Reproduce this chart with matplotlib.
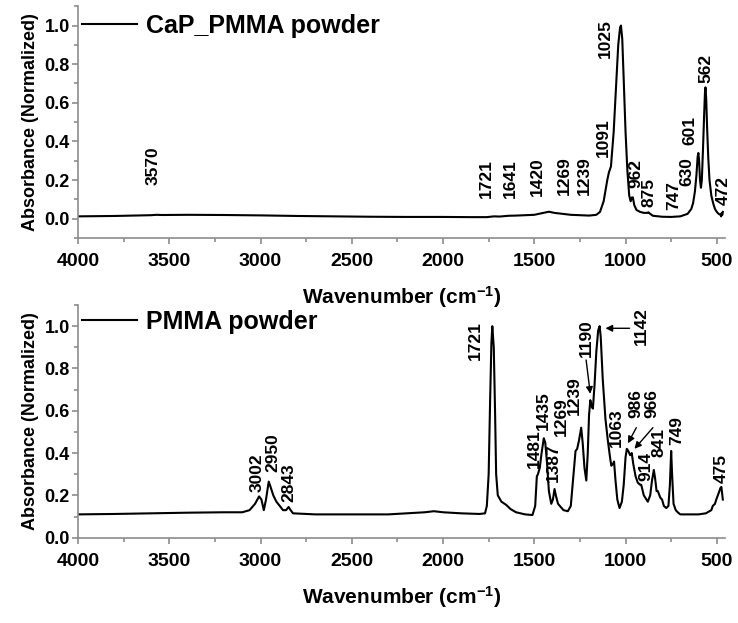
# FTIR spectra: CaP_PMMA powder vs PMMA powder

import matplotlib
matplotlib.use('Agg')
import matplotlib.pyplot as plt
from matplotlib.ticker import MultipleLocator

# ---- data ----
cap_wn = [4000, 3800, 3600, 3570, 3540, 3400, 3200, 3000, 2800, 2600, 2400, 2200,
          2000, 1850, 1760, 1721, 1690, 1641, 1600, 1500, 1450, 1420, 1390, 1300,
          1200, 1160, 1140, 1120, 1100, 1091, 1080, 1065, 1050, 1040, 1030, 1025,
          1018, 1010, 1000, 990, 980, 972, 965, 960, 952, 940, 920, 900, 880, 875,
          865, 850, 800, 750, 700, 660, 640, 630, 620, 612, 605, 601, 597, 592,
          587, 582, 576, 570, 565, 562, 558, 553, 547, 540, 530, 520, 510, 500,
          490, 480, 476, 473, 470, 467]
cap_abs = [0.012, 0.014, 0.018, 0.02, 0.019, 0.02, 0.019, 0.017, 0.014, 0.012, 0.01, 0.009,
           0.009, 0.008, 0.008, 0.012, 0.011, 0.015, 0.016, 0.02, 0.03, 0.036, 0.03, 0.02,
           0.016, 0.02, 0.035, 0.09, 0.2, 0.24, 0.27, 0.45, 0.72, 0.9, 0.99, 1.0,
           0.93, 0.72, 0.45, 0.25, 0.12, 0.09, 0.11, 0.11, 0.07, 0.045, 0.035, 0.03, 0.03, 0.033,
           0.025, 0.015, 0.01, 0.009, 0.012, 0.025, 0.05, 0.08, 0.14, 0.22, 0.32, 0.34, 0.3, 0.2,
           0.16, 0.2, 0.35, 0.52, 0.65, 0.68, 0.62, 0.47, 0.32, 0.2, 0.12, 0.08, 0.05, 0.035,
           0.025, 0.02, 0.012, 0.03, 0.02, 0.035]

pmma_wn = [4000, 3800, 3600, 3400, 3200, 3100, 3060, 3030, 3008, 2995, 2982, 2970,
           2955, 2945, 2930, 2913, 2890, 2877, 2860, 2846, 2835, 2822, 2700, 2500,
           2300, 2200, 2100, 2050, 2000, 1900, 1800, 1770, 1760, 1750, 1742, 1735,
           1730, 1722, 1715, 1709, 1700, 1680, 1654, 1630, 1600, 1550, 1510, 1495,
           1486, 1480, 1470, 1460, 1448, 1440, 1430, 1420, 1407, 1398, 1389, 1382,
           1370, 1340, 1316, 1300, 1285, 1274, 1265, 1255, 1243, 1235, 1225, 1215,
           1207, 1200, 1193, 1185, 1179, 1170, 1160, 1150, 1142, 1136, 1125, 1110,
           1097, 1085, 1078, 1068, 1063, 1055, 1045, 1033, 1020, 1010, 1000, 993,
           985, 975, 966, 958, 945, 933, 920, 914, 900, 878, 865, 855, 845, 838,
           830, 823, 810, 800, 790, 777, 765, 757, 750, 745, 737, 725, 714, 700,
           650, 600, 560, 530, 522, 510, 503, 490, 480, 475, 470, 467]
pmma_abs = [0.11, 0.112, 0.115, 0.118, 0.12, 0.12, 0.13, 0.16, 0.195, 0.18, 0.13, 0.18,
            0.265, 0.24, 0.2, 0.17, 0.145, 0.13, 0.13, 0.145, 0.13, 0.115, 0.11, 0.11,
            0.11, 0.115, 0.12, 0.125, 0.12, 0.115, 0.112, 0.115, 0.15, 0.3, 0.65, 0.92,
            1.0, 0.9, 0.6, 0.3, 0.2, 0.17, 0.155, 0.135, 0.12, 0.11, 0.107, 0.15,
            0.29, 0.3, 0.33, 0.4, 0.47, 0.45, 0.35, 0.22, 0.16, 0.18, 0.23, 0.2,
            0.16, 0.13, 0.125, 0.15, 0.3, 0.41, 0.42, 0.46, 0.52, 0.45, 0.33, 0.27,
            0.4, 0.58, 0.65, 0.62, 0.61, 0.72, 0.88, 0.98, 1.0, 0.95, 0.75, 0.56,
            0.46, 0.38, 0.34, 0.35, 0.36, 0.27, 0.18, 0.14, 0.17, 0.25, 0.38, 0.42,
            0.41, 0.39, 0.4, 0.35, 0.29, 0.26, 0.25, 0.25, 0.2, 0.17, 0.2, 0.27, 0.32, 0.28,
            0.22, 0.22, 0.19, 0.18, 0.15, 0.14, 0.15, 0.25, 0.41, 0.3, 0.16, 0.13, 0.12, 0.11,
            0.11, 0.11, 0.115, 0.13, 0.15, 0.16, 0.18, 0.21, 0.235, 0.24, 0.2, 0.18]

cap_peaks = ['3570', '1721', '1641', '1420', '1269', '1239', '1091', '1025',
             '962', '875', '747', '630', '601', '562', '472']
pmma_peaks = ['3002', '2950', '2843', '1721', '1481', '1435', '1387', '1269',
              '1239', '1190', '1142', '1063', '986', '966', '914', '841', '749', '475']

# label placement (x, y of bottom of rotated text) - layout only
cap_pos = [(3590, 0.175), (1760, 0.107), (1631, 0.107), (1482, 0.115), (1334, 0.124),
           (1228, 0.124), (1120, 0.32), (1110, 0.83), (945, 0.16), (869, 0.063),
           (737, 0.046), (664, 0.167), (646, 0.38), (558, 0.70), (467, 0.072)]
pmma_pos = [(3019, 0.217), (2932, 0.31), (2846, 0.17), (1821, 0.84), (1498, 0.33),
            (1449, 0.51), (1398, 0.265), (1352, 0.48), (1281, 0.58), (1215, 0.855),
            (914, 0.91), (1051, 0.43), (941, 0.565), (854, 0.565), (890, 0.27),
            (814, 0.38), (722, 0.44), (476, 0.257)]
# arrows: label -> (tail, head)
pmma_arrows = {'1190': ((1216, 0.84), (1193, 0.68)),
               '1142': ((978, 0.99), (1110, 0.99)),
               '986': ((941, 0.52), (987, 0.446)),
               '966': ((850, 0.52), (951, 0.42))}

plt.rcParams['font.family'] = ['Liberation Sans', 'DejaVu Sans']
plt.rcParams['font.weight'] = 'bold'
plt.rcParams['mathtext.fontset'] = 'custom'
plt.rcParams['mathtext.bf'] = 'Liberation Sans:bold'
plt.rcParams['mathtext.rm'] = 'Liberation Sans:bold'
plt.rcParams['mathtext.default'] = 'bf'

fig = plt.figure(figsize=(7.38, 6.23), dpi=100)
ax1 = fig.add_axes([0.1057, 0.618, 0.8767, 0.372])
ax2 = fig.add_axes([0.1057, 0.137, 0.8767, 0.3734])
ax2.patch.set_visible(False)   # don't hide the upper panel's x label

gray = '#8c8c8c'


def style(ax, ylo):
    ax.set_xlim(4000, 455)
    ax.set_ylim(ylo, 1.1)
    ax.xaxis.set_major_locator(MultipleLocator(500))
    ax.xaxis.set_minor_locator(MultipleLocator(250))
    ax.yaxis.set_major_locator(MultipleLocator(0.2))
    ax.yaxis.set_minor_locator(MultipleLocator(0.1))
    ax.set_yticks([0.0, 0.2, 0.4, 0.6, 0.8, 1.0])
    for s in ['top', 'right']:
        ax.spines[s].set_visible(False)
    for s in ['left', 'bottom']:
        ax.spines[s].set_color(gray)
        ax.spines[s].set_linewidth(1.2)
    ax.tick_params(which='major', direction='out', length=4, width=1.2, color=gray)
    ax.tick_params(which='minor', direction='out', length=3, width=1.2, color=gray)
    ax.tick_params(axis='y', labelsize=13, pad=2)
    ax.tick_params(axis='x', labelsize=14, pad=7)
    ax.set_ylabel('Absorbance (Normalized)', fontsize=13, fontweight='bold', labelpad=4)
    ax.set_xlabel('Wavenumber (cm$^{-1}$)', fontsize=15, fontweight='bold', labelpad=10)


style(ax1, -0.1)
style(ax2, 0.0)

ax1.plot(cap_wn, cap_abs, color='black', lw=1.5, label='CaP_PMMA powder')
ax2.plot(pmma_wn, pmma_abs, color='black', lw=1.5, label='PMMA powder')

for ax, yleg in ((ax1, 0.9167), (ax2, 0.927)):
    ax.legend(loc='center left', bbox_to_anchor=(0.006, yleg), frameon=False,
              handlelength=2.2, handletextpad=0.35, borderpad=0, borderaxespad=0,
              prop={'size': 18, 'weight': 'bold'})

for lab, (x, y) in zip(cap_peaks, cap_pos):
    ax1.text(x, y, lab, rotation=90, ha='center', va='bottom', fontsize=12.5,
             fontweight='bold')

for lab, (x, y) in zip(pmma_peaks, pmma_pos):
    ax2.text(x, y, lab, rotation=90, ha='center', va='bottom', fontsize=12.5,
             fontweight='bold')
    if lab in pmma_arrows:
        tail, head = pmma_arrows[lab]
        ax2.annotate('', xy=head, xytext=tail,
                     arrowprops=dict(arrowstyle='-|>', color='black', lw=1,
                                     mutation_scale=10, shrinkA=0, shrinkB=0))

fig.savefig('out.png', dpi=100)
